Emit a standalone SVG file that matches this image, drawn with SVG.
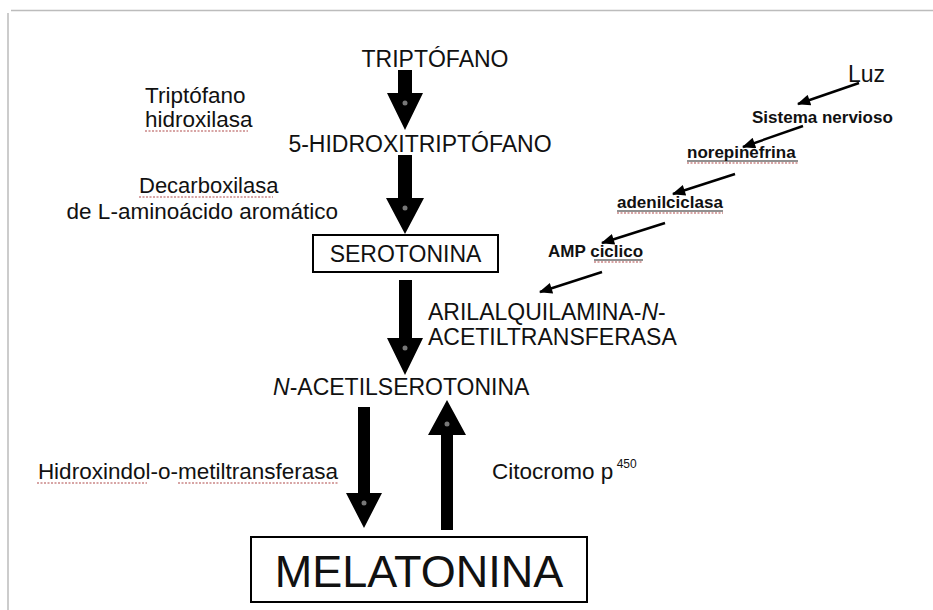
<svg xmlns="http://www.w3.org/2000/svg" width="933" height="610" viewBox="0 0 933 610">
<defs>
<style>
.t{font-family:"Liberation Sans",Arial,sans-serif;fill:#111;}
.m{font-size:23px;}
.l{font-size:22.5px;}
.r{font-size:17px;font-weight:bold;}
.big{fill:#000;}
.thin{stroke:#000;stroke-width:2.4;fill:none;marker-end:url(#ah);}
.box{fill:#fff;stroke:#000;stroke-width:2;}
.ul{stroke:#222;stroke-width:1.2;fill:none;}
.sq{stroke:#b04a4a;stroke-width:1.2;fill:none;stroke-dasharray:2 1.5;}
.dot{fill:#777;}
.frame{stroke:#bcbcbc;stroke-width:1.5;fill:none;}
</style>
<marker id="ah" viewBox="0 0 12 10" refX="11" refY="5" markerWidth="14" markerHeight="11" markerUnits="userSpaceOnUse" orient="auto">
<path d="M0,0 L12,5 L0,10 z" fill="#000"/>
</marker>
</defs>
<rect width="933" height="610" fill="#fff"/>
<path class="frame" d="M11,10.5 H933 M8,13 V610"/>

<g id="connectors">
<polygon class="big" points="398,70 412,70 412,93 423,93 405,130 387,93 398,93"/>
<circle class="dot" cx="405" cy="103" r="2.5"/>
<polygon class="big" points="398,155 412,155 412,198 424,198 405,234 386,198 398,198"/>
<circle class="dot" cx="405" cy="208" r="2.5"/>
<polygon class="big" points="399,280 412,280 412,338 423,338 405,375 387,338 399,338"/>
<circle class="dot" cx="405" cy="348" r="2.5"/>
<polygon class="big" points="358,407 370,407 370,493 382,493 364,528 346,493 358,493"/>
<circle class="dot" cx="364" cy="503" r="2.5"/>
<polygon class="big" points="447,400 466,435 453,435 453,530 441,530 441,435 428,435"/>
<circle class="dot" cx="447" cy="424" r="2.5"/>
<line class="thin" x1="859" y1="83" x2="798" y2="104"/>
<line class="thin" x1="803" y1="126" x2="743" y2="147"/>
<line class="thin" x1="735" y1="174" x2="673" y2="194"/>
<line class="thin" x1="665" y1="223" x2="602" y2="243"/>
<line class="thin" x1="602" y1="272" x2="540" y2="292"/>
</g>

<g id="triptofano">
<text class="t m" x="435" y="67" text-anchor="middle">TRIPTÓFANO</text>
</g>
<g id="hidroxitriptofano">
<text class="t m" x="420" y="152" text-anchor="middle">5-HIDROXITRIPTÓFANO</text>
</g>
<g id="serotonina">
<rect class="box" x="313" y="235" width="185" height="37"/>
<text class="t m" x="405.5" y="262" text-anchor="middle">SEROTONINA</text>
</g>
<g id="acetilserotonina">
<text class="t m" x="273" y="395"><tspan font-style="italic">N</tspan>-ACETILSEROTONINA</text>
</g>
<g id="melatonina">
<rect class="box" x="251" y="537" width="336" height="65"/>
<text class="t" x="419" y="587" text-anchor="middle" font-size="45">MELATONINA</text>
</g>

<g id="enzima-hidroxilasa">
<text class="t l" x="145" y="103">Triptófano</text>
<text class="t l" x="145" y="127">hidroxilasa</text>
<path class="sq" d="M145,131 H248"/>
</g>
<g id="enzima-decarboxilasa">
<text class="t" x="139" y="193" font-size="22">Decarboxilasa</text>
<path class="sq" d="M139,197 H273"/>
<text class="t l" x="338" y="219" text-anchor="end">de L-aminoácido aromático</text>
</g>
<g id="enzima-aanat">
<text class="t m" x="428" y="320">ARILALQUILAMINA-<tspan font-style="italic">N</tspan>-</text>
<text class="t m" x="428" y="345">ACETILTRANSFERASA</text>
</g>
<g id="enzima-hiomt">
<text class="t l" x="338" y="479" text-anchor="end">Hidroxindol-o-metiltransferasa</text>
<path class="sq" d="M37,483 H147 M178,483 H338"/>
</g>
<g id="enzima-citocromo">
<text class="t l" x="492" y="479">Citocromo p<tspan font-size="12" dy="-11"> 450</tspan></text>
</g>

<g id="luz">
<text class="t" x="848" y="82" font-size="23">Luz</text>
</g>
<g id="sistema-nervioso">
<text class="t r" x="752" y="123">Sistema nervioso</text>
</g>
<g id="norepinefrina">
<text class="t r" x="687" y="158">norepinefrina</text>
<path class="ul" d="M687,161 H798"/>
<path class="sq" d="M687,163 H798"/>
</g>
<g id="adenilciclasa">
<text class="t r" x="617" y="208">adenilciclasa</text>
<path class="ul" d="M617,211 H723"/>
<path class="sq" d="M617,213 H723"/>
</g>
<g id="amp-ciclico">
<text class="t r" x="548" y="257">AMP ciclico</text>
<path class="ul" d="M594,260 H643"/>
<path class="sq" d="M594,262 H643"/>
</g>
</svg>
